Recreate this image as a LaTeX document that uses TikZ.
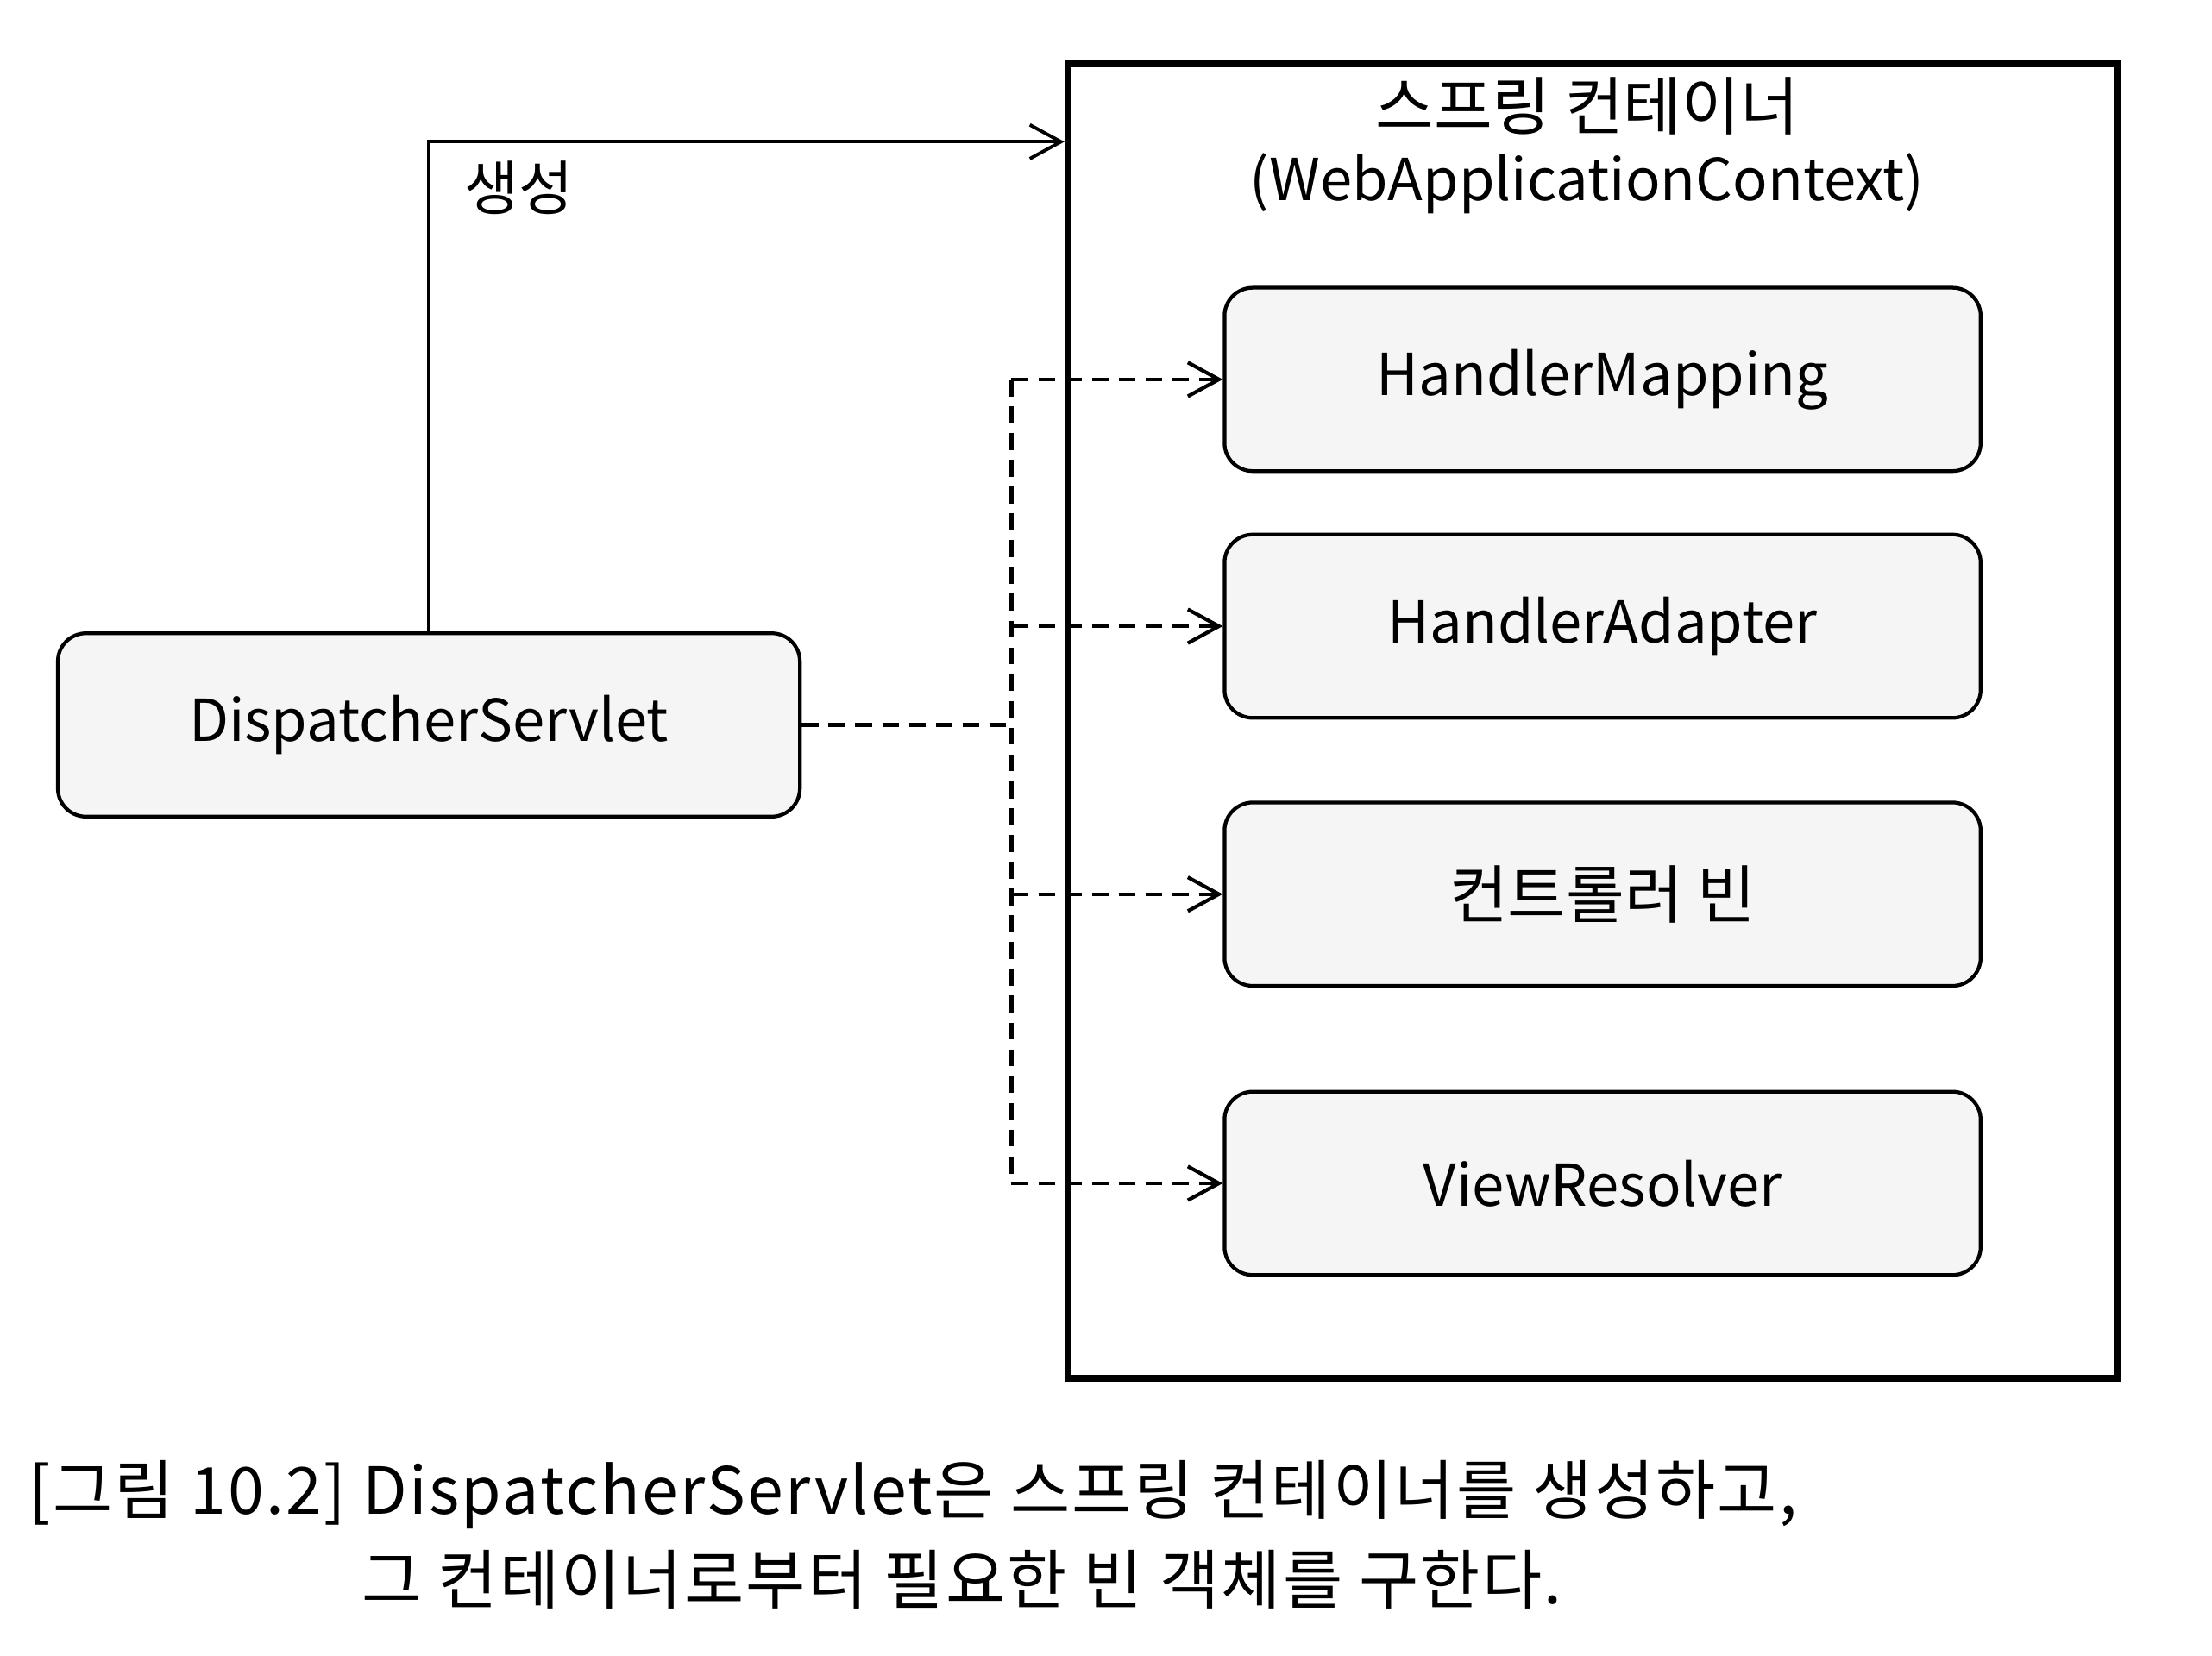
\documentclass[tikz,border=0pt]{standalone}
\usepackage{fontspec}
\newfontfamily\krfont{Noto Sans CJK KR}
\newfontfamily\capfont[LetterSpace=3]{Noto Sans CJK KR}
\usepackage{tikz}
\usetikzlibrary{arrows.meta, positioning}

\tikzset{
    bean/.style={rectangle,
                 rounded corners=10pt,
                 draw=black,
                 line width=1.3pt,
                 fill=black!4,
                 minimum width=268pt,
                 minimum height=65pt,
                 text=black,
                 font=\krfont\fontsize{20.5}{25}\selectfont},
    krbean/.style={bean, font=\krfont\fontsize{22.5}{27}\selectfont},
    dep/.style={line width=1.3pt, dash pattern=on 6pt off 3.5pt},
    barb/.style={-{Straight Barb[length=11pt, width=12pt]}},
    caption/.style={anchor=west, text=black, inner sep=0pt,
                    font=\capfont\fontsize{23}{27}\selectfont}
}

\begin{document}
\begin{tikzpicture}[x=0.5pt, y=-0.5pt]
        \fill[white] (0,0) rectangle (1568,1174);
        \useasboundingbox (0,0) rectangle (1568,1174);

        % Add the container
        \node[draw=black,
              line width=2.5pt,
              inner sep=0pt,
              minimum width=372pt,
              minimum height=466pt] (spring) at (1129,511) {};
        \node[align=center,
              text=black,
              font=\krfont\fontsize{22.5}{25}\selectfont] (title) at (1125,103)
            {스프링 컨테이너\\{\fontsize{20.5}{25}\selectfont(WebApplicationContext)}};

        % Add the beans
        \node[bean] (hm) at (1136,269) {HandlerMapping};
        \node[bean] (ha) at (1136,444) {HandlerAdapter};
        \node[krbean] (cb) at (1136,634) {컨트롤러 빈};
        \node[bean] (vr) at (1136,839) {ViewResolver};

        % Add the servlet
        \node[bean,
              minimum width=263pt] (ds) at (304,514) {DispatcherServlet};

        % Connect the servlet with the container
        \draw[barb, line width=1.2pt]
            (ds.north) |- ([yshift=-29pt]spring.north west);
        \node[text=black,
              font=\krfont\fontsize{21}{25}\selectfont] (create) at (368,133) {생성};

        % Connect the servlet with the beans
        \coordinate (bus) at (717,514);
        \draw[dep] (ds.east) -- (bus);
        \draw[dep] (bus |- hm.west) -- (bus |- vr.west);
        \foreach \b in {hm, ha, cb, vr}
            \draw[dep, barb] (bus |- \b.west) -- (\b.west);

        % Add the caption
        \node[caption] (cap1) at (20,1060)
            {[그림 10.2] DispatcherServlet은 스프링 컨테이너를 생성하고,};
        \node[caption] (cap2) at (256,1120)
            {그 컨테이너로부터 필요한 빈 객체를 구한다.};
    \end{tikzpicture}
\end{document}
